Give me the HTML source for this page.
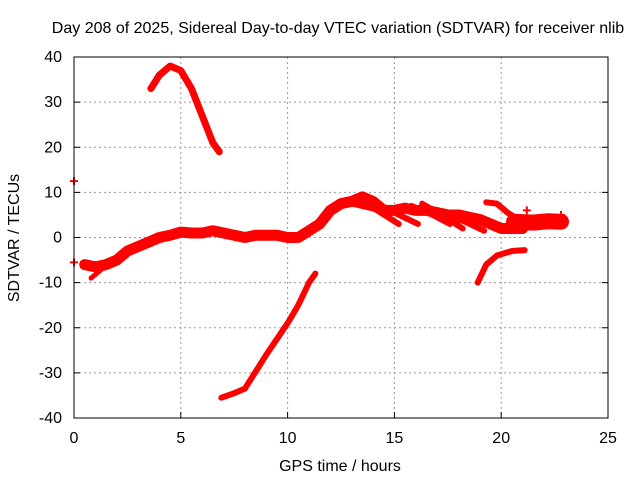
<!DOCTYPE html>
<html><head><meta charset="utf-8"><style>
body{margin:0;background:#fff}
svg{display:block;font-family:"Liberation Sans",sans-serif}
</style></head><body>
<svg id="chart" width="640" height="480" viewBox="0 0 640 480">
<rect width="640" height="480" fill="#fff"/>
<text x="338" y="33" font-size="16" text-anchor="middle" fill="#000">Day 208 of 2025, Sidereal Day-to-day VTEC variation (SDTVAR) for receiver nlib</text>
<g id="grid"></g>
<g id="series"></g>
<rect x="74" y="57" width="534" height="361" fill="none" stroke="#000" stroke-width="1"/>
<g id="ticks"></g>
<text x="340" y="471" font-size="16" text-anchor="middle">GPS time / hours</text>
<text x="0" y="0" font-size="16" text-anchor="middle" transform="translate(19,238) rotate(-90)">SDTVAR / TECUs</text>
</svg>
<script>
const xTicks=[0,5,10,15,20,25];
const yTicks=[-40,-30,-20,-10,0,10,20,30,40];
const mainH=[0.5,1,1.5,2,2.5,3,3.5,4,4.5,5,5.5,6,6.5,7,7.5,8,8.5,9,9.5,10,10.5,11,11.5,12,12.5,13,13.5,14,14.5,15,15.5,16,16.5,17,17.5,18,18.5,19,19.5,20,20.5,21];
const mainV=[-6,-6.5,-6,-5,-3,-2,-1,0,0.5,1.2,1,1,1.5,1,0.5,0,0.5,0.5,0.5,0,0,1.5,3,6,7.5,8,9,8,6,6,6.5,6,6,5.5,5,5,4.5,4,3,2,2,2];
const branchH=[[13.2,14.2,15.2],[13.8,15,16.1],[15.8,16.8,17.6],[16.3,17.2,18.2],[17.3,18.3,19.2],[12.6,13.5,14.4]];
const branchV=[[9,6,3],[8.5,5.5,3],[7,5,3],[7.5,5,2],[5.5,3.5,1.5],[8,7,6]];
const arcH=[19.3,19.8,20.3,20.8];
const arcV=[7.8,7.5,5.5,4];
const clusterH=[20.6,21.5,22.2,22.8];
const clusterV=[3.5,3.3,3.6,3.5];
const topH=[3.6,4,4.5,5,5.5,6,6.5,6.8];
const topV=[33,36,38,37,33,27,21,19];
const botH=[6.9,7.5,8,9,10,10.5,11,11.3];
const botV=[-35.5,-34.5,-33.5,-26,-19,-15,-10,-8];
const lowH=[18.9,19.3,19.8,20.5,21.1];
const lowV=[-10,-6,-4,-3,-2.8];
const smallH=[0.8,1.3];
const smallV=[-9,-7];
const ptH=[0,0,22.8,21.2];
const ptV=[12.5,-5.5,5,6];
const NS='http://www.w3.org/2000/svg';
const X=h=>74+h*534/25;
const Y=v=>237.5-v*361/80;
function el(t,a,p){const e=document.createElementNS(NS,t);for(const k in a)e.setAttribute(k,a[k]);p.appendChild(e);return e;}
const grid=document.getElementById('grid'),ticks=document.getElementById('ticks'),ser=document.getElementById('series');
xTicks.forEach(t=>{
 if(t>0&&t<25){const g=el('line',{x1:X(t),x2:X(t),y1:57,y2:418,stroke:'#999','stroke-dasharray':'2,3'},grid);
 
 }
 const tk=el('line',{x1:X(t),x2:X(t),y1:418,y2:412,stroke:'#000'},ticks);
 
 
 const tx=el('text',{x:X(t),y:443,'font-size':16,'text-anchor':'middle'},ticks);tx.textContent=t;
 
 
});
yTicks.forEach(t=>{
 if(t>-40&&t<40){const g=el('line',{x1:74,x2:608,y1:Y(t),y2:Y(t),stroke:'#999','stroke-dasharray':'2,3'},grid);
 
 }
 const tk=el('line',{x1:74,x2:80,y1:Y(t),y2:Y(t),stroke:'#000'},ticks);
 
 
 const tk2=el('line',{x1:602,x2:608,y1:Y(t),y2:Y(t),stroke:'#000'},ticks);
 
 
 const tx=el('text',{x:62,y:Y(t)+5,'font-size':16,'text-anchor':'end'},ticks);tx.textContent=t;
 
 
});
function line(H,V,w,name){
 const p=el('polyline',{points:H.map((h,i)=>X(h)+','+Y(V[i])).join(' '),fill:'none',stroke:'#f00','stroke-width':w,'stroke-linejoin':'round','stroke-linecap':'round'},ser);
 
 
}
line(mainH,mainV,11,'main-band');
branchH.forEach((h,i)=>line(h,branchV[i],6,'branch-track'));
line(arcH,arcV,6,'upper-right-arc');
line(clusterH,clusterV,16,'right-cluster');
line(topH,topV,7,'top-arc');
line(botH,botV,6,'bottom-track');
line(lowH,lowV,6,'lower-right-arc');
line(smallH,smallV,5,'small-left-track');
ptH.forEach((h,i)=>{
 const p=el('path',{d:`M${X(h)-4},${Y(ptV[i])}h8M${X(h)},${Y(ptV[i])-4}v8`,stroke:'#f00','stroke-width':2},ser);
 
 
});
</script>
</body></html>
